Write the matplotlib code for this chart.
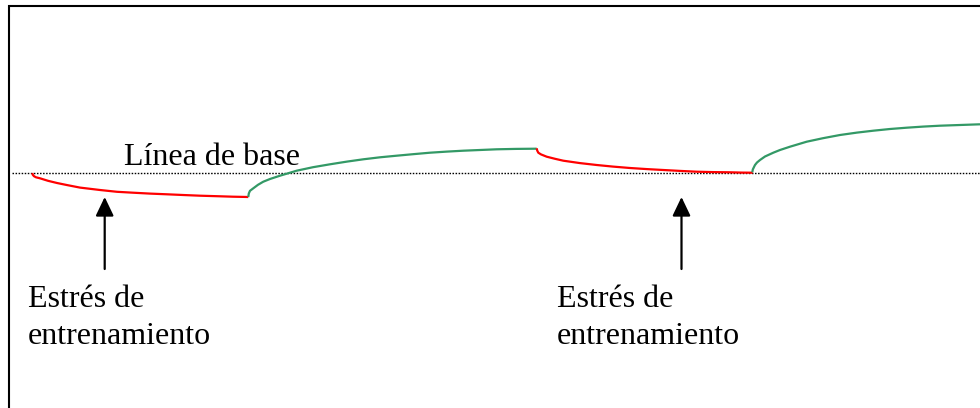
import matplotlib
matplotlib.use("Agg")
import matplotlib.pyplot as plt

# Conceptual "supercompensation" curves: time (x) vs. fitness relative to baseline (y)
red1_t = [32.3, 32.8, 34, 36, 40, 48, 57, 66.7, 80, 100, 117, 133, 150, 167, 183, 200, 217, 233, 248.3]
red1_v = [0, -1.8, -3.2, -4.3, -5.3, -7.8, -10.0, -12.0, -14.6, -17.0, -18.8, -19.7, -20.6, -21.3, -22.0, -22.7, -23.2, -23.7, -24.0]

green1_t = [248.3, 248.8, 250, 253.3, 258, 263.3, 270, 280, 296.7, 313, 330, 347, 363.3, 380, 396.7, 413, 430, 447, 463.3, 480, 496.7, 516, 536.7]
green1_v = [-24.0, -20.5, -17.8, -15.3, -11.8, -8.7, -6.0, -2.7, 2.3, 5.8, 8.7, 11.4, 13.7, 15.7, 17.3, 18.8, 20.3, 21.4, 22.3, 23.0, 23.7, 24.1, 24.3]

red2_t = [536.7, 537.2, 538.3, 541, 546.7, 555, 563.3, 580, 596.7, 613, 630, 647, 663.3, 680, 696.7, 713, 730, 742, 752.7]
red2_v = [24.7, 22.5, 20.3, 18.6, 16.3, 14.2, 12.3, 9.9, 8.0, 6.4, 5.0, 3.9, 3.0, 2.1, 1.3, 0.9, 0.7, 0.4, 0.3]

green2_t = [752.3, 752.8, 754, 755, 757, 760, 765, 773.3, 780, 790, 806.7, 823, 840, 857, 873.3, 890, 906.7, 923, 940, 960, 980]
green2_v = [0.7, 3.5, 6.0, 8.0, 10.5, 13.0, 16.5, 20.3, 23.0, 26.3, 31.3, 34.8, 38.0, 40.4, 42.3, 44.0, 45.3, 46.4, 47.3, 48.0, 48.7]

arrow_t = [104.7, 681.5]
label_baseline = "Línea de base"
label_stress = "Estrés de\nentrenamiento"

RED = "#FF0000"
GREEN = "#339966"
FONT = ["Liberation Serif", "DejaVu Serif"]

fig = plt.figure(figsize=(9.8, 4.08), dpi=100)
ax = fig.add_axes([0, 0, 1, 1])
ax.set_xlim(0, 980)
ax.set_ylim(173 - 408, 173)
ax.axis("off")

# frame (left and top edges visible)
ax.plot([9, 9, 990], [-260, 167.5, 167.5], color="black", lw=1.5, clip_on=False,
        solid_joinstyle="miter", solid_capstyle="butt")

# dotted baseline
ax.plot([12, 980], [0, 0], color="black", lw=1.0, linestyle=(0, (1.1, 1.1)))

# curves
ax.plot(red1_t, red1_v, color=RED, lw=1.6, solid_capstyle="butt")
ax.plot(green1_t, green1_v, color=GREEN, lw=1.6, solid_capstyle="butt")
ax.plot(red2_t, red2_v, color=RED, lw=1.6, solid_capstyle="butt")
ax.plot(green2_t, green2_v, color=GREEN, lw=1.6, solid_capstyle="butt")

# arrows
for t in arrow_t:
    ax.annotate("", xy=(t, -24), xytext=(t, -96),
                arrowprops=dict(arrowstyle="-|>,head_length=1.15,head_width=0.55",
                                lw=1.6, color="black", mutation_scale=10,
                                shrinkA=0, shrinkB=0))

# texts
ax.text(124, 8, label_baseline, family=FONT, fontsize=23, va="baseline", ha="left")
ax.text(28, -171, label_stress, family=FONT, fontsize=23, va="baseline", ha="left",
        linespacing=1.36)
ax.text(557, -171, label_stress, family=FONT, fontsize=23, va="baseline", ha="left",
        linespacing=1.36)

fig.savefig("out.png", dpi=100)
